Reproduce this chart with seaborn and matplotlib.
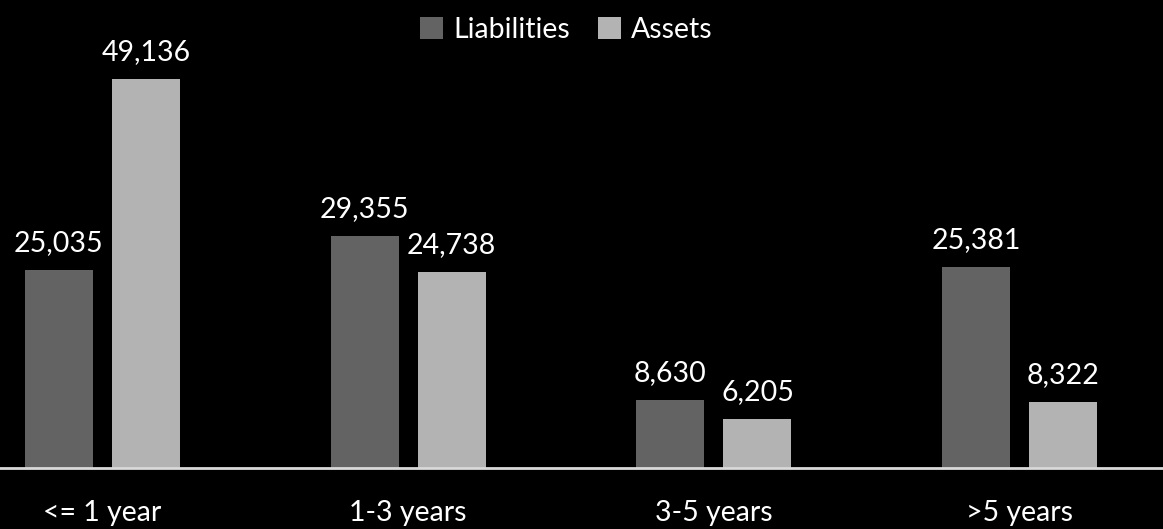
import numpy as np
import pandas as pd
import seaborn as sns
import matplotlib.pyplot as plt

# --- Data ---
buckets = ['<= 1 year', '1-3 years', '3-5 years', '>5 years']
liabilities = [25035, 29355, 8630, 25381]
assets = [49136, 24738, 6205, 8322]
series_names = ['Liabilities', 'Assets']
palette = {'Liabilities': '#636363', 'Assets': '#b3b3b3'}

df = pd.DataFrame({
    'bucket': buckets * 2,
    'series': [series_names[0]] * len(buckets) + [series_names[1]] * len(buckets),
    'value': liabilities + assets,
})

sns.set_theme(style='dark')
plt.rcParams['font.family'] = ['Lato', 'DejaVu Sans']
txt_color = 'white'
fsize = 20.5

fig = plt.figure(figsize=(11.63, 5.29), dpi=100, facecolor='black')
ax = fig.add_axes([0, 61 / 529, 1, 468 / 529])
ax.set_facecolor('black')

sns.barplot(data=df, x='bucket', y='value', hue='series', palette=palette,
            width=0.57, gap=0.22, ax=ax, legend=True, saturation=1,
            linewidth=0, edgecolor='none')

for cont in ax.containers:
    labels = [f'{v:,.0f}' for v in cont.datavalues]
    ax.bar_label(cont, labels=labels, padding=10, color=txt_color,
                 fontsize=fsize)

ax.set_xlim(-0.335, 3.469)
ax.set_ylim(0, 59100)
ax.set_xlabel('')
ax.set_ylabel('')
ax.set_yticks([])
ax.grid(False)
ax.tick_params(axis='x', length=0, pad=23, colors=txt_color, labelsize=fsize)

for side in ['top', 'left', 'right']:
    ax.spines[side].set_visible(False)
ax.spines['bottom'].set_color('#d9d9d9')
ax.spines['bottom'].set_linewidth(2)

handles, labels = ax.get_legend_handles_labels()
ax.get_legend().remove()
leg = fig.legend(handles, labels, loc='upper center', bbox_to_anchor=(0.487, 1.016),
                 ncol=2, frameon=False, handlelength=0.8,
                 handleheight=0.8, handletextpad=0.35, columnspacing=1.0,
                 prop={'size': fsize})
for t in leg.get_texts():
    t.set_color(txt_color)

fig.savefig('out.png', dpi=100, facecolor='black')
